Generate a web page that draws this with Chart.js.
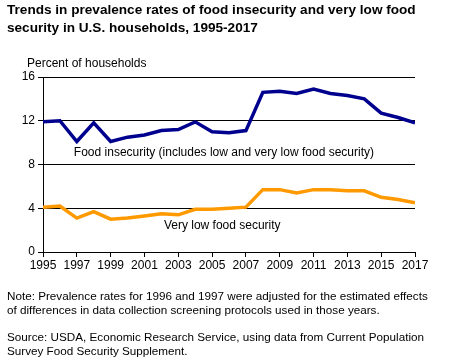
<!DOCTYPE html>
<html>
<head>
<meta charset="utf-8">
<script src="https://cdn.jsdelivr.net/npm/chart.js@4"></script>
<style>
html,body{margin:0;padding:0;background:#fff;}
body{width:450px;height:360px;position:relative;overflow:hidden;font-family:"Liberation Sans",Arial,sans-serif;color:#000;}
#title{position:absolute;left:7px;top:1px;font-weight:bold;font-size:13.6px;line-height:18px;width:425px;}
#unit{position:absolute;left:27px;top:56px;font-size:12px;}
.note{position:absolute;left:7px;font-size:11.7px;line-height:14px;width:428px;}
#c{position:absolute;left:0;top:0;}
</style>
</head>
<body>
<canvas id="c" width="450" height="360"></canvas>
<div id="title">Trends in prevalence rates of food insecurity and very low food security in U.S. households, 1995-2017</div>
<div id="unit">Percent of households</div>
<div class="note" style="top:289px">Note: Prevalence rates for 1996 and 1997 were adjusted for the estimated effects of differences in data collection screening protocols used in those years.</div>
<div class="note" style="top:330px">Source: USDA, Economic Research Service, using data from Current Population Survey Food Security Supplement.</div>
<script>
const years = [1995,1996,1997,1998,1999,2000,2001,2002,2003,2004,2005,2006,2007,2008,2009,2010,2011,2012,2013,2014,2015,2016,2017];
const foodInsecurity = [11.9,12.0,10.1,11.8,10.1,10.5,10.7,11.1,11.2,11.9,11.0,10.9,11.1,14.6,14.7,14.5,14.9,14.5,14.3,14.0,12.7,12.3,11.8];
const veryLowFoodSecurity = [4.1,4.2,3.1,3.7,3.0,3.1,3.3,3.5,3.4,3.9,3.9,4.0,4.1,5.7,5.7,5.4,5.7,5.7,5.6,5.6,5.0,4.8,4.5];
const yTicks = [0,4,8,12,16];
const xTicks = [1995,1997,1999,2001,2003,2005,2007,2009,2011,2013,2015,2017];
const seriesLabels = ["Food insecurity (includes low and very low food security)","Very low food security"];
const labelAnchors = [{x:2005.7,y:9.1},{x:2005.6,y:2.45}];

const toPts = arr => arr.map((v,i)=>({x:years[i],y:v}));

const labelPlugin = {
  id:'lineLabels',
  afterDatasetsDraw(chart){
    const {ctx,scales:{x,y}} = chart;
    ctx.save();
    ctx.font = '12px "Liberation Sans", Arial, sans-serif';
    ctx.fillStyle = '#000';
    ctx.textAlign = 'center';
    ctx.textBaseline = 'middle';
    seriesLabels.forEach((t,i)=>{
      ctx.fillText(t, x.getPixelForValue(labelAnchors[i].x), y.getPixelForValue(labelAnchors[i].y));
    });
    ctx.restore();
  }
};

new Chart(document.getElementById('c'),{
  type:'line',
  data:{datasets:[
    {label:seriesLabels[0],data:toPts(foodInsecurity),borderColor:'#00008f',borderWidth:3.5,pointRadius:0,tension:0,fill:false},
    {label:seriesLabels[1],data:toPts(veryLowFoodSecurity),borderColor:'#ff9900',borderWidth:3.5,pointRadius:0,tension:0,fill:false}
  ]},
  options:{
    responsive:false,animation:false,
    layout:{padding:{left:0,top:77,right:35,bottom:88}},
    plugins:{legend:{display:false},tooltip:{enabled:false},title:{display:false}},
    scales:{
      x:{type:'linear',min:1995,max:2017,
        afterBuildTicks(s){s.ticks = xTicks.map(v=>({value:v}));},
        afterFit(s){s.height=20;},
        grid:{drawOnChartArea:false,drawTicks:true,tickLength:5,color:'#000',lineWidth:1},
        border:{display:true,color:'#000',width:1},
        ticks:{color:'#000',font:{size:12,family:'"Liberation Sans", Arial, sans-serif'},padding:1,maxRotation:0,autoSkip:false,callback:v=>String(v)}
      },
      y:{min:0,max:16,
        afterBuildTicks(s){s.ticks = yTicks.map(v=>({value:v}));},
        afterFit(s){s.width=43;},
        grid:{color:'#000',lineWidth:1,tickLength:5,drawTicks:true},
        border:{display:true,color:'#000',width:1},
        ticks:{color:'#000',font:{size:12,family:'"Liberation Sans", Arial, sans-serif'},padding:3}
      }
    }
  },
  plugins:[labelPlugin]
});
</script>
</body>
</html>
